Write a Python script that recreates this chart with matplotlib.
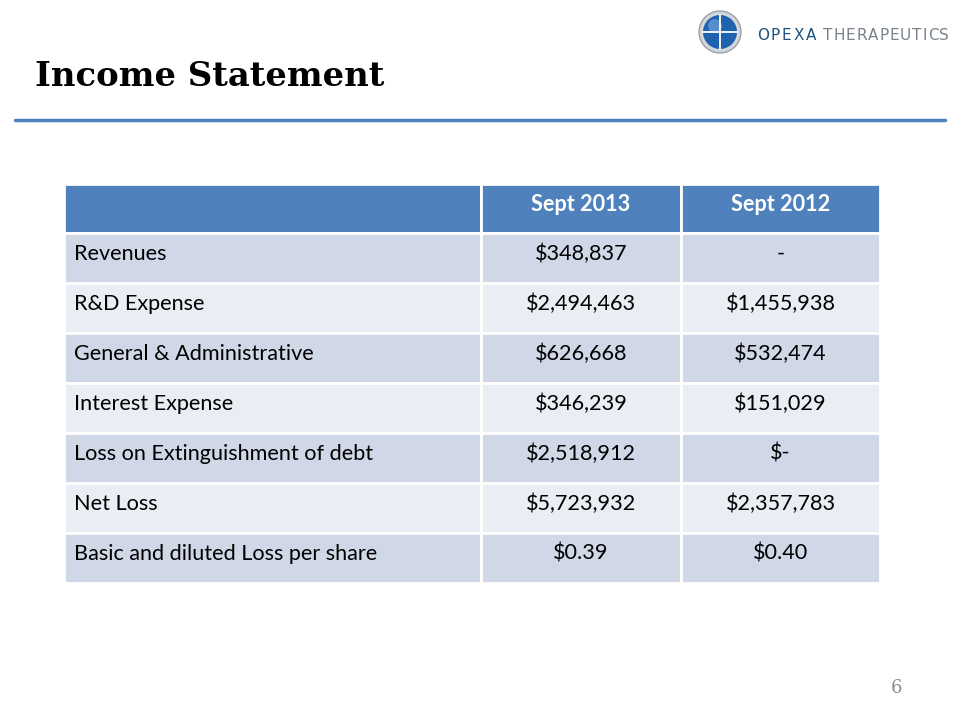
import matplotlib.pyplot as plt
from matplotlib.patches import Rectangle, Circle

title = "Income Statement"
columns = ["", "Sept 2013", "Sept 2012"]
row_labels = ["Revenues", "R&D Expense", "General & Administrative", "Interest Expense",
              "Loss on Extinguishment of debt", "Net Loss", "Basic and diluted Loss per share"]
sept_2013 = ["$348,837", "$2,494,463", "$626,668", "$346,239", "$2,518,912", "$5,723,932", "$0.39"]
sept_2012 = ["-", "$1,455,938", "$532,474", "$151,029", "$-", "$2,357,783", "$0.40"]
page_number = "6"

blue = "#4f81bd"
row_colors = ["#d0d8e8", "#e9edf4"]
body_font = ["Lato", "DejaVu Sans"]
fs = 15.6

fig = plt.figure(figsize=(9.6, 7.2), dpi=100)
ax = fig.add_axes([0, 0, 1, 1])
ax.set_xlim(0, 960)
ax.set_ylim(720, 0)
ax.axis("off")
renderer = fig.canvas.get_renderer()

# title and rule
ax.text(35, 76, title, fontsize=24.4, fontweight="bold", family="DejaVu Serif",
        va="center", ha="left", color="black")
ax.plot([15, 945], [120, 120], color=blue, lw=2.5, solid_capstyle="round")

# logo
ax.add_patch(Circle((720, 32), 21, facecolor="#d4d7da", edgecolor="#9aa0a6", lw=1))
ax.add_patch(Circle((720, 32), 17, facecolor="#1f63b0", edgecolor="none"))
ax.add_patch(Circle((715, 26), 7, facecolor="#7aaae0", edgecolor="none", alpha=0.6))
ax.plot([720, 720], [15, 49], color="white", lw=1.3)
ax.plot([703, 737], [32, 32], color="white", lw=1.3)


def spaced(x0, x1, y, word, color, weight="normal"):
    # letter-spaced word filling x0..x1
    texts = [ax.text(0, y, ch, fontsize=11, color=color, va="center", ha="left",
                     family="DejaVu Sans", fontweight=weight) for ch in word]
    widths = [t.get_window_extent(renderer).width for t in texts]
    track = (x1 - x0 - sum(widths)) / (len(word) - 1)
    x = x0
    for t, w in zip(texts, widths):
        t.set_x(x)
        x += w + track


spaced(757, 816, 35, "OPEXA", "#1d5080", "medium")
spaced(823, 949, 35, "THERAPEUTICS", "#7a838c")

# table
col_x = [64, 481, 681, 880]
top = 184
header_h = 49
row_h = 50

for j in range(3):
    ax.add_patch(Rectangle((col_x[j], top), col_x[j + 1] - col_x[j], header_h,
                           facecolor=blue, edgecolor="white", lw=2))
    if columns[j]:
        ax.text((col_x[j] + col_x[j + 1]) / 2, top + header_h / 2 - 4, columns[j],
                fontsize=fs, fontweight="bold", color="white", ha="center", va="center",
                family=body_font)

for i, label in enumerate(row_labels):
    y = top + header_h + i * row_h
    cells = [label, sept_2013[i], sept_2012[i]]
    for j in range(3):
        ax.add_patch(Rectangle((col_x[j], y), col_x[j + 1] - col_x[j], row_h,
                               facecolor=row_colors[i % 2], edgecolor="white", lw=2))
        if j == 0:
            ax.text(col_x[0] + 10, y + row_h / 2 - 4, cells[j], fontsize=fs, color="black",
                    ha="left", va="center", family=body_font)
        else:
            ax.text((col_x[j] + col_x[j + 1]) / 2, y + row_h / 2 - 4, cells[j], fontsize=fs,
                    color="black", ha="center", va="center", family=body_font)

ax.text(897, 688, page_number, fontsize=13, color="#8c8c8c", ha="center", va="center",
        family="DejaVu Serif")

fig.savefig("out.png", dpi=100)
